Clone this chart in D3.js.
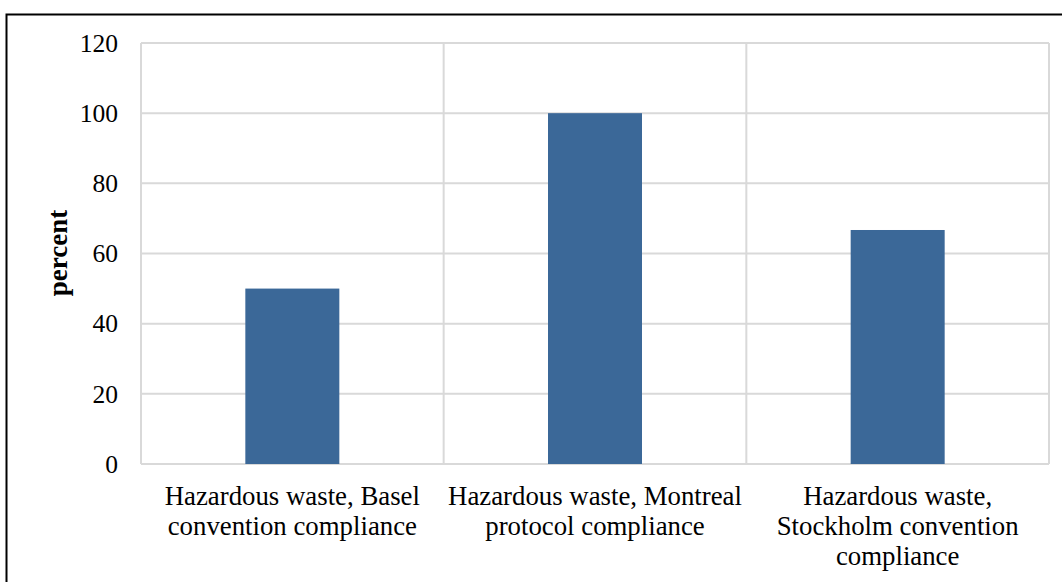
<!DOCTYPE html>
<html>
<head>
<meta charset="utf-8">
<script src="https://cdn.jsdelivr.net/npm/d3@7"></script>
<style>
  html, body { margin: 0; padding: 0; background: #fff; }
  svg { display: block; }
  text { font-family: "Liberation Serif", "Times New Roman", serif; fill: #000; }
</style>
</head>
<body>
<svg id="chart" width="1062" height="582"></svg>
<script>
// Compliance with hazardous-waste conventions, percent
const categories = [
  ["Hazardous waste, Basel", "convention compliance"],
  ["Hazardous waste, Montreal", "protocol compliance"],
  ["Hazardous waste,", "Stockholm convention", "compliance"]
];
const values = [50, 100, 66.7];
const yTicks = [0, 20, 40, 60, 80, 100, 120];
const yLabel = "percent";

const svg = d3.select("#chart");
const W = 1062, H = 582;
const plot = { left: 141, right: 1049, top: 43, bottom: 464 };

// outer frame
svg.append("rect")
  .attr("x", 6.5).attr("y", 14.5)
  .attr("width", W + 10).attr("height", H + 10)
  .attr("fill", "none").attr("stroke", "#000").attr("stroke-width", 2);

const x = d3.scaleBand()
  .domain(d3.range(categories.length))
  .range([plot.left, plot.right])
  .paddingInner(0).paddingOuter(0);

const y = d3.scaleLinear().domain([0, 120]).range([plot.bottom, plot.top]);

const gridColor = "#d9d9d9";

// horizontal gridlines
svg.append("g").selectAll("line").data(yTicks).join("line")
  .attr("x1", plot.left).attr("x2", plot.right)
  .attr("y1", d => y(d)).attr("y2", d => y(d))
  .attr("stroke", gridColor).attr("stroke-width", 2);

// vertical gridlines at category boundaries
const bounds = d3.range(categories.length + 1).map(i => plot.left + i * x.step());
svg.append("g").selectAll("line").data(bounds).join("line")
  .attr("x1", d => d).attr("x2", d => d)
  .attr("y1", plot.top).attr("y2", plot.bottom)
  .attr("stroke", gridColor).attr("stroke-width", 2);

// bars
const barW = 94;
svg.append("g").selectAll("rect").data(values).join("rect")
  .attr("x", (d, i) => x(i) + x.bandwidth() / 2 - barW / 2)
  .attr("width", barW)
  .attr("y", d => y(d))
  .attr("height", d => y(0) - y(d))
  .attr("fill", "#3b6898");

// y axis labels
const yAxis = d3.axisLeft(y).tickValues(yTicks).tickSize(0).tickPadding(23);
const gy = svg.append("g").attr("transform", `translate(${plot.left},0)`).call(yAxis);
gy.select(".domain").remove();
gy.selectAll("text")
  .attr("font-family", "Liberation Serif, serif")
  .attr("font-size", 25.5).attr("fill", "#000");

// category labels
const gx = svg.append("g");
categories.forEach((lines, i) => {
  const t = gx.append("text")
    .attr("text-anchor", "middle")
    .attr("font-size", 26.8);
  lines.forEach((ln, j) => {
    t.append("tspan")
      .attr("x", x(i) + x.bandwidth() / 2)
      .attr("y", 505 + j * 30)
      .text(ln);
  });
});

// y axis title
svg.append("text")
  .attr("transform", `translate(67,253) rotate(-90)`)
  .attr("text-anchor", "middle")
  .attr("font-size", 27).attr("font-weight", "bold")
  .text(yLabel);
</script>
</body>
</html>
